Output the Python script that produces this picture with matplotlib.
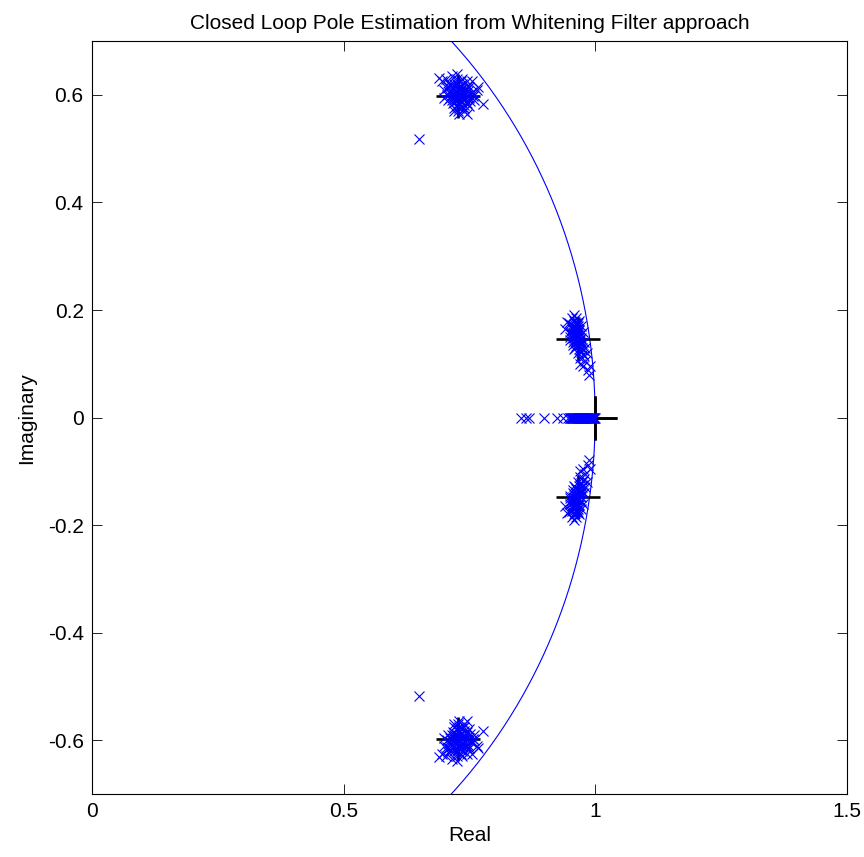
import numpy as np
import matplotlib
matplotlib.use("Agg")
import matplotlib.pyplot as plt

plt.rcParams['font.family'] = ['Liberation Sans', 'DejaVu Sans']

# True closed-loop poles (upper half plane + real pole)
true_re = [0.728, 0.965, 1.0]
true_im = [0.598, 0.147, 0.0]

# Estimated poles, complex pair near 0.73 +/- 0.60j (upper member)
est_a_re = [0.730, 0.720, 0.740, 0.725, 0.735, 0.715, 0.745, 0.730, 0.730, 0.720,
            0.740, 0.710, 0.750, 0.725, 0.735, 0.720, 0.745, 0.715, 0.705, 0.755,
            0.730, 0.740, 0.725, 0.735, 0.710, 0.750, 0.700, 0.760, 0.720, 0.745,
            0.728, 0.732, 0.738, 0.722, 0.742, 0.718, 0.712, 0.748, 0.733, 0.727,
            0.695, 0.703, 0.715, 0.740, 0.745, 0.750, 0.760, 0.765, 0.755, 0.730,
            0.720, 0.700, 0.725, 0.690, 0.708, 0.650, 0.777, 0.767,
            0.722, 0.735, 0.726, 0.731, 0.719, 0.741, 0.724, 0.737, 0.714, 0.744,
            0.729, 0.733, 0.717, 0.739, 0.711, 0.747, 0.723, 0.736, 0.708, 0.752,
            0.727, 0.716, 0.743, 0.731, 0.721, 0.738, 0.706, 0.757, 0.728, 0.734]
est_a_im = [0.600, 0.610, 0.590, 0.595, 0.605, 0.600, 0.600, 0.585, 0.615, 0.590,
            0.610, 0.605, 0.595, 0.580, 0.620, 0.620, 0.585, 0.590, 0.600, 0.605,
            0.575, 0.575, 0.630, 0.630, 0.615, 0.615, 0.610, 0.600, 0.575, 0.625,
            0.592, 0.608, 0.598, 0.603, 0.592, 0.612, 0.595, 0.608, 0.588, 0.612,
            0.625, 0.630, 0.635, 0.570, 0.565, 0.580, 0.590, 0.610, 0.625, 0.565,
            0.570, 0.595, 0.638, 0.632, 0.622, 0.518, 0.583, 0.615,
            0.598, 0.596, 0.606, 0.601, 0.594, 0.603, 0.588, 0.612, 0.607, 0.597,
            0.583, 0.617, 0.585, 0.582, 0.620, 0.617, 0.622, 0.578, 0.590, 0.588,
            0.597, 0.600, 0.610, 0.591, 0.615, 0.605, 0.612, 0.598, 0.570, 0.625]

# Estimated poles, complex pair near 0.965 +/- 0.15j (upper member)
est_b_re = [0.960, 0.965, 0.955, 0.970, 0.958, 0.968, 0.952, 0.962, 0.957, 0.966,
            0.972, 0.950, 0.960, 0.975, 0.965, 0.970, 0.978, 0.980, 0.975, 0.985,
            0.988, 0.990, 0.955, 0.948, 0.953, 0.962, 0.968, 0.972, 0.975, 0.978,
            0.963, 0.959, 0.967, 0.956, 0.973, 0.969, 0.961, 0.950, 0.984, 0.980,
            0.958, 0.940, 0.964, 0.970, 0.945, 0.957,
            0.961, 0.963, 0.958, 0.966, 0.954, 0.969, 0.960, 0.964, 0.957, 0.971,
            0.953, 0.967, 0.962, 0.974, 0.959, 0.965, 0.951, 0.968, 0.956, 0.976,
            0.972, 0.960, 0.954, 0.966]
est_b_im = [0.150, 0.160, 0.140, 0.145, 0.165, 0.135, 0.155, 0.175, 0.180, 0.170,
            0.155, 0.160, 0.130, 0.125, 0.120, 0.110, 0.115, 0.105, 0.095, 0.088,
            0.079, 0.095, 0.170, 0.175, 0.185, 0.185, 0.180, 0.170, 0.160, 0.140,
            0.142, 0.158, 0.152, 0.148, 0.130, 0.125, 0.138, 0.145, 0.120, 0.130,
            0.128, 0.165, 0.165, 0.100, 0.178, 0.190,
            0.152, 0.147, 0.162, 0.143, 0.158, 0.138, 0.168, 0.172, 0.155, 0.148,
            0.165, 0.128, 0.133, 0.138, 0.145, 0.155, 0.150, 0.162, 0.135, 0.118,
            0.122, 0.178, 0.173, 0.176]

# Estimated real poles
est_c_re = [0.853, 0.862, 0.869, 0.899, 0.924, 0.936, 0.946, 0.950, 0.953, 0.955,
            0.956, 0.960, 0.963, 0.965, 0.966, 0.970, 0.972, 0.975, 0.977, 0.980,
            0.982, 0.984, 0.985, 0.986, 0.988, 0.990, 0.991, 0.992, 0.993, 0.994,
            0.995, 0.996, 0.997, 0.998, 0.951, 0.952, 0.954, 0.957, 0.958, 0.959,
            0.961, 0.962, 0.964, 0.967, 0.968, 0.969, 0.971, 0.973, 0.974, 0.976,
            0.978, 0.979, 0.981, 0.983, 0.987, 0.989, 0.999]

x_ticks = [0, 0.5, 1, 1.5]
x_ticklabels = ['0', '0.5', '1', '1.5']
y_ticks = [-0.6, -0.4, -0.2, 0, 0.2, 0.4, 0.6]
y_ticklabels = ['-0.6', '-0.4', '-0.2', '0', '0.2', '0.4', '0.6']

fig = plt.figure(figsize=(8.64, 8.57), dpi=100)
ax = fig.add_axes([0.1065, 0.0735, 0.8735, 0.8785])

# Unit circle
theta = np.linspace(0, 2 * np.pi, 2000)
ax.plot(np.cos(theta), np.sin(theta), color='blue', lw=0.8)

# True poles (with conjugates)
tr = np.array(true_re)
ti = np.array(true_im)
ax.plot(np.concatenate([tr, tr]), np.concatenate([ti, -ti]), linestyle='none',
        marker='+', color='black', markersize=31, markeredgewidth=1.9)

# Estimated poles and their complex conjugates
est_re = np.concatenate([est_a_re, est_b_re])
est_im = np.concatenate([est_a_im, est_b_im])
all_re = np.concatenate([est_re, est_re, est_c_re])
all_im = np.concatenate([est_im, -est_im, np.zeros(len(est_c_re))])
ax.plot(all_re, all_im, linestyle='none', marker='x', color='blue',
        markersize=7, markeredgewidth=0.8)

ax.set_xlim(0, 1.5)
ax.set_ylim(-0.7, 0.7)
ax.set_xticks(x_ticks)
ax.set_xticklabels(x_ticklabels)
ax.set_yticks(y_ticks)
ax.set_yticklabels(y_ticklabels)
ax.tick_params(direction='in', length=7, width=0.6, top=True, right=True,
               labelsize=15, pad=6)
for s in ax.spines.values():
    s.set_linewidth(0.8)

ax.set_xlabel('Real', fontsize=15, labelpad=3)
ax.set_ylabel('Imaginary', fontsize=15, labelpad=8)
ax.set_title('Closed Loop Pole Estimation from Whitening Filter approach',
             fontsize=15, pad=9)

fig.savefig('out.png', dpi=100)
